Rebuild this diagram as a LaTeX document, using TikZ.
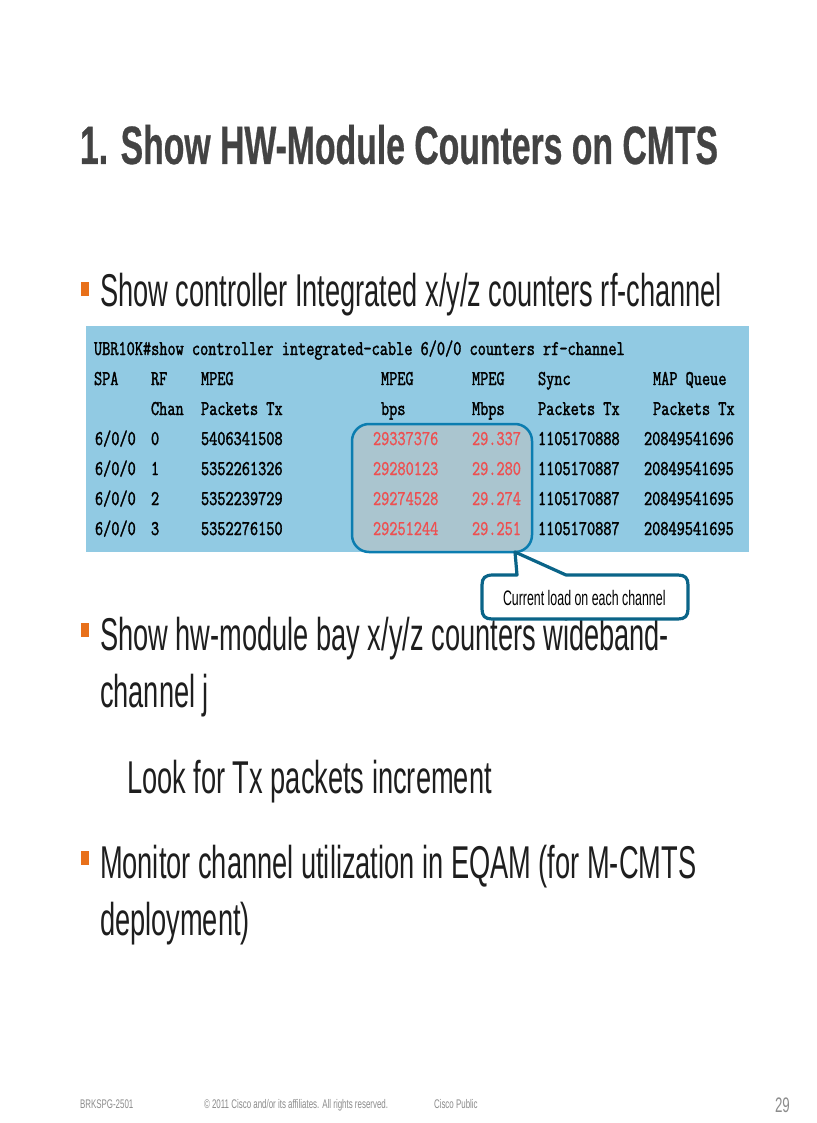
\documentclass[tikz,border=0pt]{standalone}
\usepackage{fontspec}
\setmainfont{Liberation Sans}
\newfontfamily\titlef[FakeStretch=0.625,FakeBold=0.5]{Liberation Sans Bold}
\newfontfamily\bodyf[FakeStretch=0.592]{Liberation Sans}
\newfontfamily\callf[FakeStretch=0.59]{Liberation Sans}
\newfontfamily\smallf[FakeStretch=0.635]{Liberation Sans}
\newfontfamily\tabf[FakeStretch=0.755,FakeBold=1.6]{Latin Modern Mono}
\newfontfamily\redf[FakeStretch=0.755,FakeBold=1.0]{Latin Modern Mono}
\definecolor{tablebg}{HTML}{91CAE3}
\definecolor{hilite}{HTML}{AAC5CF}
\definecolor{hiedge}{HTML}{0B7DB0}
\definecolor{calledge}{HTML}{0A6488}
\definecolor{redtxt}{HTML}{EE4F50}
\definecolor{bull}{HTML}{E8701A}
\definecolor{titlegray}{HTML}{434343}
\definecolor{bodytxt}{HTML}{1E1E1E}
\definecolor{foot}{HTML}{8C8C8C}
\tikzset{
  txt/.style={anchor=base west,inner sep=0pt,outer sep=0pt},
  titletxt/.style={txt,font=\titlef\fontsize{54}{54}\selectfont,text=titlegray},
  bodytext/.style={txt,font=\bodyf\fontsize{46}{46}\selectfont,text=bodytxt},
  tabtxt/.style={txt,font=\tabf\fontsize{21}{21}\selectfont,text=black},
  redcell/.style={txt,font=\redf\fontsize{21}{21}\selectfont,text=redtxt},
  foottxt/.style={txt,font=\smallf\fontsize{12.5}{12.5}\selectfont,text=foot},
  bullet/.style={fill=bull,draw=none,minimum width=8pt,minimum height=14pt,inner sep=0pt,anchor=north west},
}
\begin{document}
\begin{tikzpicture}[x=1pt,y=-1pt]
\useasboundingbox (0,0) rectangle (816,1123);
\fill[white] (0,0) rectangle (816,1123);
\node[titletxt] (title) at (80,164) {1. Show HW-Module Counters on CMTS};
\node[bullet] (b1) at (81,281.500) {};
\node[bodytext] (l1) at (100,306) {Show controller Integrated x/y/z counters rf-channel};
\fill[tablebg] (86,326) rectangle (749,552);
\filldraw[fill=hilite,draw=hiedge,line width=2.5pt,rounded corners=17pt] (352,424) rectangle (532,552);
\node[tabtxt] (hdr) at (94,355) {UBR10K\#show controller integrated-cable 6/0/0 counters rf-channel};
\foreach \n/\x/\y/\t in {
 a/94/385/SPA,b/151/385/RF,c/201/385/MPEG,d/381/385/MPEG,e/472/385/MPEG,f/538/385/Sync,g/653/385/MAP Queue,
 h/151/415/Chan,i/201/415/Packets Tx,j/381/415/bps,k/472/415/Mbps,l/538/415/Packets Tx,m/653/415/Packets Tx,
 n/95/445/6\slash 0\slash 0,o/151/445/0,p/201/445/5406341508,q/538/445/1105170888,r/644/445/20849541696,
 s/95/475/6\slash 0\slash 0,t/151/475/1,u/201/475/5352261326,v/538/475/1105170887,w/644/475/20849541695,
 x/95/505/6\slash 0\slash 0,y/151/505/2,z/201/505/5352239729,aa/538/505/1105170887,ab/644/505/20849541695,
 ac/95/535/6\slash 0\slash 0,ad/151/535/3,ae/201/535/5352276150,af/538/535/1105170887,ag/644/535/20849541695}
 {\node[tabtxt] (cell\n) at (\x,\y) {\t};}
\foreach \n/\x/\y/\t in {
 a/373/445/29337376,b/472/445/29.337,c/373/475/29280123,d/472/475/29.280,
 e/373/505/29274528,f/472/505/29.274,g/373/535/29251244,h/472/535/29.251}
 {\node[redcell] (red\n) at (\x,\y) {\t};}
\node[bullet] (b2) at (81,623) {};
\node[bodytext] (l2) at (100,650) {Show hw-module bay x/y/z counters wideband-};
\node[bodytext] (l3) at (100,707) {channel j};
\node[bodytext] (l4) at (127,793) {Look for Tx packets increment};
\node[bullet] (b3) at (81,851) {};
\node[bodytext] (l5) at (100,878) {Monitor channel utilization in EQAM (for M-CMTS};
\node[bodytext] (l6) at (100,935) {deployment)};
\filldraw[fill=white,draw=calledge,line width=3.2pt,line join=round]
  (493,575) -- (517,575) -- (515,552) -- (566,575) -- (678,575)
  .. controls (685,575) and (688,578) .. (688,585) -- (688,609)
  .. controls (688,616) and (685,619) .. (678,619) -- (492,619)
  .. controls (485,619) and (482,616) .. (482,609) -- (482,585)
  .. controls (482,578) and (485,575) .. (493,575) -- cycle;
\node[txt,font=\callf\fontsize{21}{21}\selectfont,text=black] (clab) at (503,605) {Current load on each channel};
\node[foottxt] (f1) at (80,1108) {BRKSPG-2501};
\node[foottxt] (f2) at (204,1108) {© 2011 Cisco and/or its affiliates. All rights reserved.};
\node[foottxt] (f3) at (434,1108) {Cisco Public};
\node[txt,font=\smallf\fontsize{21}{21}\selectfont,text=foot] (f4) at (775,1112) {29};
\end{tikzpicture}
\end{document}
